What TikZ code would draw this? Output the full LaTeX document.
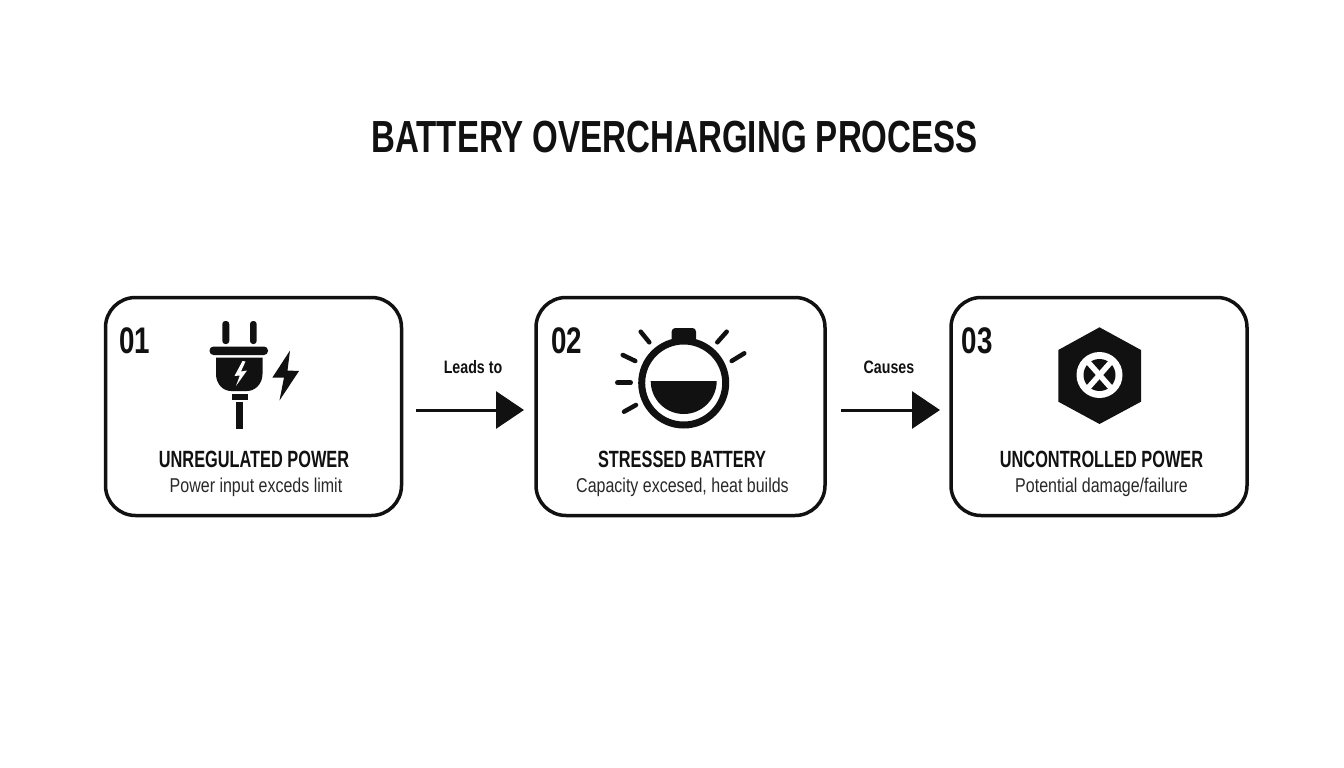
\documentclass[tikz,border=0pt]{standalone}
\usepackage{fontspec}
\setmainfont{Liberation Sans}
\newfontfamily\ftitle[FakeStretch=0.735]{Liberation Sans}
\newfontfamily\fhead[FakeStretch=0.695]{Liberation Sans}
\newfontfamily\fsub[FakeStretch=0.80]{Liberation Sans}
\newfontfamily\fnum[FakeStretch=0.75]{Liberation Sans}
\newfontfamily\flbl[FakeStretch=0.79]{Liberation Sans}
\usetikzlibrary{arrows.meta}
\definecolor{ink}{HTML}{111111}
\tikzset{
  card/.style={draw=ink,line width=3.5pt,rounded corners=30pt,fill=white,inner sep=0pt,outer sep=0pt,minimum height=218pt},
  flow/.style={draw=ink,line width=3pt,-{Triangle[length=28pt,width=37pt]}},
  num/.style={text=ink,inner sep=0pt,font=\fnum\bfseries\fontsize{37}{37}\selectfont},
  head/.style={text=ink,inner sep=0pt,font=\fhead\bfseries\fontsize{23.5}{24}\selectfont},
  sub/.style={text=ink!90,inner sep=0pt,font=\fsub\fontsize{20}{22}\selectfont},
  lbl/.style={text=ink,inner sep=0pt,font=\flbl\bfseries\fontsize{18}{20}\selectfont},
  ink fill/.style={fill=ink,draw=none},
  ray/.style={draw=ink,line width=4.5pt,line cap=round}
}
\begin{document}
\begin{tikzpicture}[x=1pt,y=-1pt]
\useasboundingbox (0,0) rectangle (1344,768);
\fill[white] (0,0) rectangle (1344,768);
\node[text=ink,inner sep=0pt,font=\ftitle\bfseries\fontsize{45}{46}\selectfont] (title) at (674.5,137) {BATTERY OVERCHARGING PROCESS};
% cards
\node[card,minimum width=296pt] (c1) at (253.5,406.5) {};
\node[card,minimum width=289pt] (c2) at (680.5,406.5) {};
\node[card,minimum width=296pt] (c3) at (1099,406.5) {};
% numbers
\node[num] (n1) at (134.5,340.5) {01};
\node[num] (n2) at (566.5,340.5) {02};
\node[num] (n3) at (977,340.5) {03};
% headings and captions
\node[head] (h1) at (254,459.5) {UNREGULATED POWER};
\node[sub] (s1) at (256,487.5) {Power input exceds limit};
\node[head] (h2) at (682,459.5) {STRESSED BATTERY};
\node[sub] (s2) at (682.5,487.5) {Capacity excesed, heat builds};
\node[head] (h3) at (1101.5,459.5) {UNCONTROLLED POWER};
\node[sub] (s3) at (1101.5,487.5) {Potential damage/failure};
% connectors
\draw[flow,shorten <=14.5pt,shorten >=12pt] ([yshift=-3.5pt]c1.east) -- ([yshift=-3.5pt]c2.west);
\draw[flow,shorten <=16pt,shorten >=11pt] ([yshift=-3.5pt]c2.east) -- ([yshift=-3.5pt]c3.west);
\node[lbl] (l1) at (473,367.5) {Leads to};
\node[lbl] (l2) at (889,367.5) {Causes};
% plug icon
\fill[ink,rounded corners=3pt] (222.3,321) rectangle (229.3,344);
\fill[ink,rounded corners=3pt] (250,321) rectangle (256.7,344);
\fill[ink,rounded corners=4pt] (209.5,346.5) rectangle (268,355);
\path[ink fill] (216,357.5) -- (262.5,357.5) -- (262.5,374) .. controls (262.5,384) and (255,391) .. (247,391) -- (231,391) .. controls (223,391) and (216,384) .. (216,374) -- cycle;
\fill[white] (242.5,361) -- (234.5,376) -- (239.8,375.5) -- (236,386) -- (247,370.5) -- (241,371.5) -- (245.5,361.5) -- cycle;
\fill[ink] (231.7,394) rectangle (248.3,400);
\fill[ink] (236,402) rectangle (242.7,428.5);
\path[ink fill] (290,350.5) -- (272.3,377.7) -- (284,377.5) -- (279.5,400.5) -- (299,371) -- (287.5,370.5) -- cycle;
% battery icon
\fill[ink,rounded corners=3.5pt] (671.7,328) rectangle (696,342);
\draw[ink,line width=7pt,fill=white] (683.7,383) circle (42pt);
\path[ink fill] (650.7,381) -- (716.7,381) arc[start angle=0,end angle=-180,radius=33pt] -- cycle;
\draw[ray] (640.7,331.7) -- (649.3,342.3);
\draw[ray] (622.7,355) -- (635.3,361);
\draw[ray] (617.3,382.7) -- (630.7,382.7);
\draw[ray] (624,411.7) -- (636,405);
\draw[ray] (717.3,342.3) -- (726.7,331.7);
\draw[ray] (731.7,361) -- (744.3,353.3);
% hexagon icon
\path[ink fill] (1099.5,327.3) -- (1141,350) -- (1141,401.7) -- (1099.5,424) -- (1058.3,401.7) -- (1058.3,350) -- cycle;
\fill[white] (1099.5,375) circle (23pt);
\fill[ink] (1099.5,375) circle (16pt);
\draw[white,line width=5.5pt] (1088,362) -- (1111,388);
\draw[white,line width=5.5pt] (1111,362) -- (1088,388);
\end{tikzpicture}
\end{document}
